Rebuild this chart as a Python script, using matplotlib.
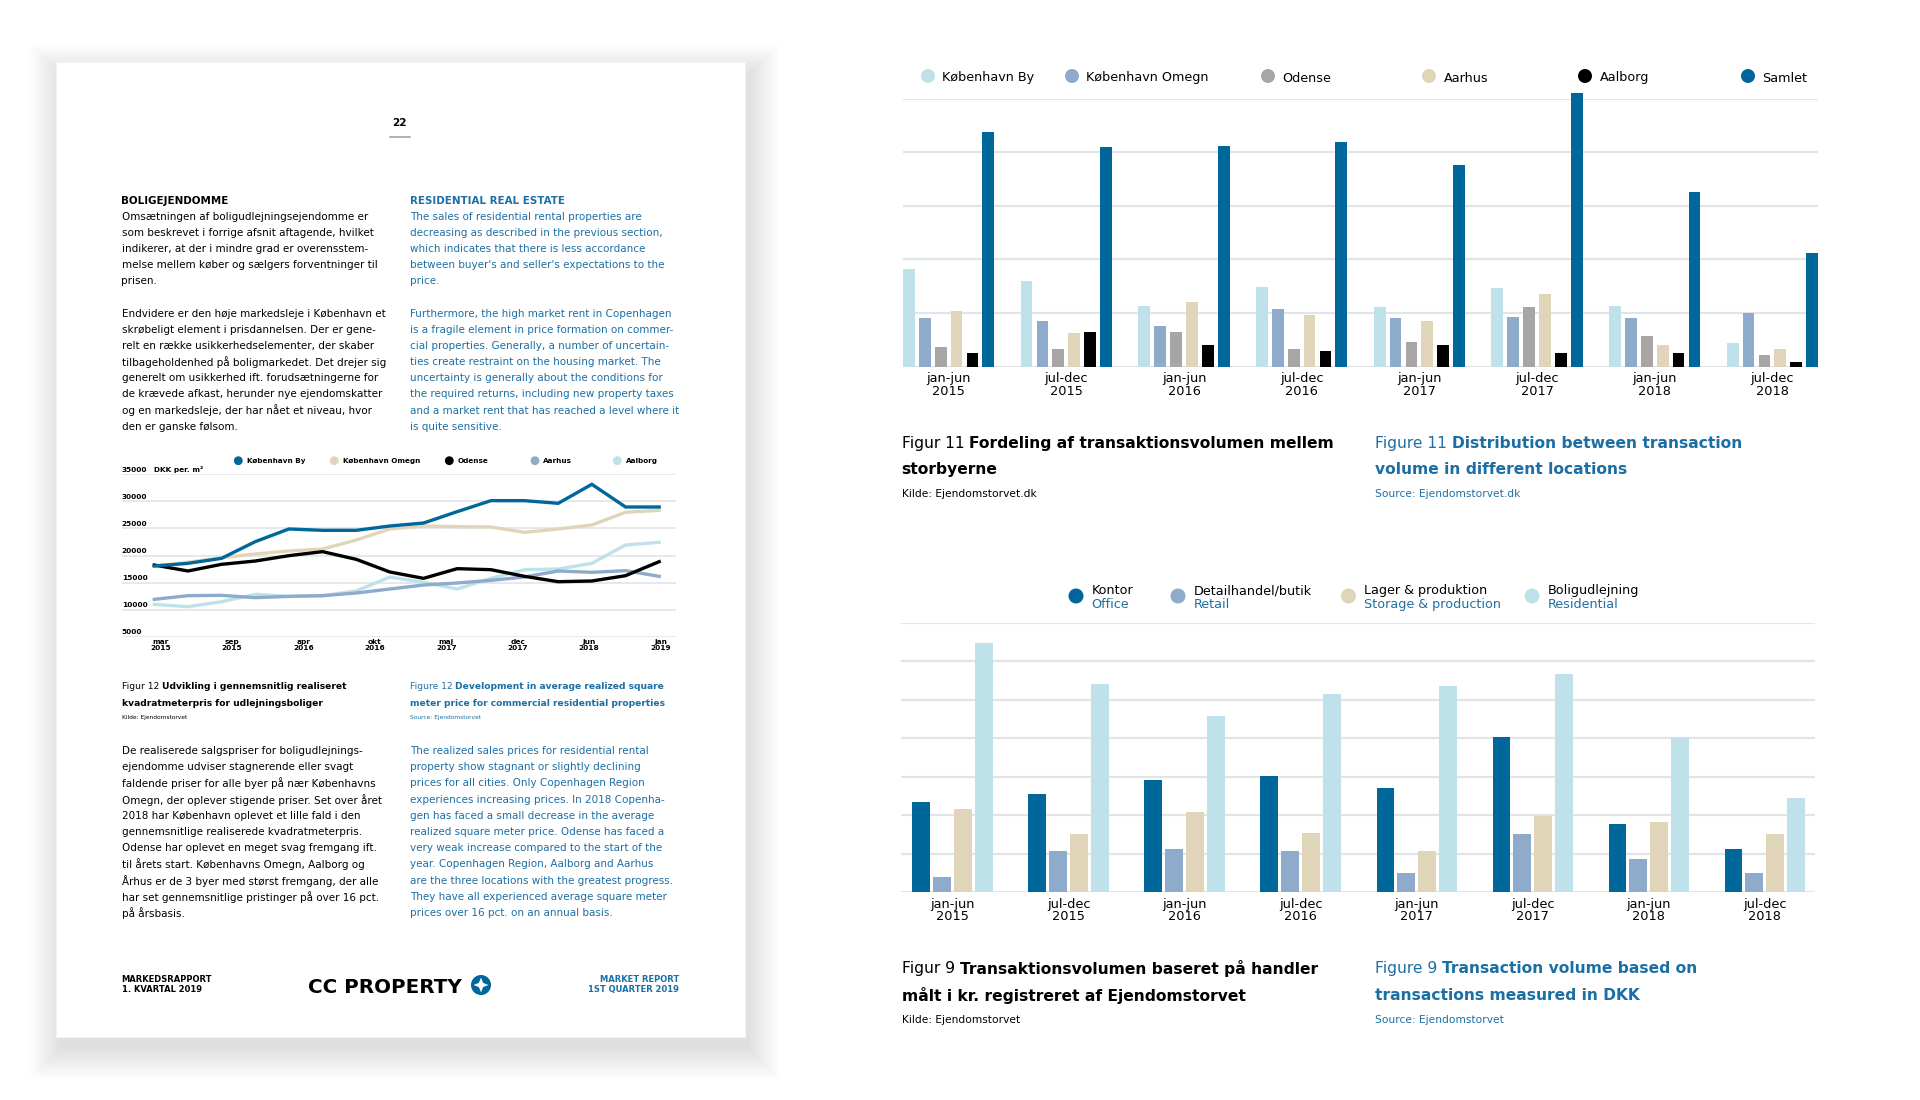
import matplotlib
matplotlib.use("Agg")
import matplotlib.pyplot as plt
import numpy as np
from matplotlib.patches import Rectangle, Circle, Polygon

plt.rcParams["font.family"] = ["DejaVu Sans"]

W, H = 1920, 1100
DARK = "#00679a"
TXT_BLUE = "#1c6fa4"
GRID = "#e1e4e8"
C_BY = "#bfe2ea"
C_OMEGN = "#8eabcb"
C_ODENSE = "#a8a5a5"
C_AARHUS = "#e1d5b9"
C_AALBORG = "#000000"

# ---- line chart: realised price per m2, quarterly Q1 2015 .. Q4 2018
price_ticks = ["mar\n2015", "sep\n2015", "apr\n2016", "okt\n2016",
               "maj\n2017", "dec\n2017", "jun\n2018", "jan\n2019"]
kbh_by_pris = [18060, 18550, 19480, 22560, 24900, 24650, 24650, 25450,
               26000, 28100, 30130, 30130, 29640, 33150, 28960, 28960]
kbh_omegn_pris = [18060, 18740, 19600, 20280, 20830, 21200, 22860, 24900,
                  25450, 25330, 25270, 24280, 24900, 25640, 27980, 28350]
odense_pris = [18240, 17140, 18370, 18980, 19970, 20710, 19290, 16950,
               15780, 17570, 17380, 16150, 15160, 15290, 16270, 18860]
aarhus_pris = [11900, 12580, 12640, 12210, 12450, 12580, 13070, 13810,
               14550, 14920, 15410, 16030, 17140, 16890, 17200, 16150]
aalborg_pris = [10980, 10540, 11470, 12820, 12450, 12580, 13440, 16030,
                15040, 13810, 15780, 17380, 17500, 18550, 21940, 22430]

# ---- bar charts: half-year periods
periods = ["jan-jun\n2015", "jul-dec\n2015", "jan-jun\n2016", "jul-dec\n2016",
           "jan-jun\n2017", "jul-dec\n2017", "jan-jun\n2018", "jul-dec\n2018"]

# figure 11 (relative volume per city, no axis labels in original)
vol_kbh_by = [1.82, 1.60, 1.14, 1.49, 1.11, 1.46, 1.14, 0.44]
vol_kbh_omegn = [0.90, 0.86, 0.76, 1.07, 0.90, 0.93, 0.90, 1.00]
vol_odense = [0.37, 0.33, 0.65, 0.33, 0.47, 1.11, 0.58, 0.22]
vol_aarhus = [1.04, 0.62, 1.21, 0.96, 0.86, 1.36, 0.40, 0.33]
vol_aalborg = [0.25, 0.65, 0.40, 0.29, 0.40, 0.25, 0.25, 0.08]
vol_samlet = [4.37, 4.09, 4.12, 4.19, 3.76, 5.11, 3.26, 2.13]

# figure 9 (volume per property type)
vol_kontor = [2.34, 2.55, 2.92, 3.02, 2.71, 4.02, 1.76, 1.13]
vol_detail = [0.38, 1.07, 1.13, 1.07, 0.49, 1.50, 0.87, 0.49]
vol_lager = [2.17, 1.50, 2.07, 1.54, 1.07, 1.98, 1.81, 1.50]
vol_bolig = [6.46, 5.40, 4.57, 5.14, 5.35, 5.67, 4.02, 2.44]

fig = plt.figure(figsize=(19.2, 11), dpi=100)
bg = fig.add_axes([0, 0, 1, 1])
bg.set_xlim(0, W)
bg.set_ylim(H, 0)
bg.axis("off")


def px_axes(x0, y0, x1, y1):
    ax = fig.add_axes([x0 / W, 1 - y1 / H, (x1 - x0) / W, (y1 - y0) / H])
    ax.set_facecolor("none")
    for s in ax.spines.values():
        s.set_visible(False)
    return ax


def txt(x, y, s, size, color="black", weight="normal", ha="left", **kw):
    return bg.text(x, y, s, fontsize=size, color=color, fontweight=weight,
                   ha=ha, va="center_baseline", **kw)


def mixed(x, y, first, second, size, color):
    t = txt(x, y, first, size, color)
    bg.annotate(second, xy=(1, y), xycoords=(t, "data"), xytext=(size * 0.32, 0),
                textcoords="offset points", fontsize=size, color=color,
                fontweight="bold", va="center_baseline", ha="left")


# ---- page with shadow
PX0, PY0, PX1, PY1 = 56, 62, 745, 1037
for i in range(16):
    gap = i * 2.0
    bg.add_patch(Rectangle((PX0 - gap + 4, PY0 - gap + 12), (PX1 - PX0) + 2 * gap,
                           (PY1 - PY0) + 2 * gap, fc="black", alpha=0.008, lw=0))
bg.add_patch(Rectangle((PX0, PY0), PX1 - PX0, PY1 - PY0, fc="white",
                       ec="#f2f2f2", lw=0.8))

txt(399.3, 121.7, "22", 7.5, weight="bold", ha="center")
bg.plot([390.4, 410], [136.7, 136.7], color="#9a9a9a", lw=1.1)

LX, RX = 121.5, 409.6
BODY = 7.5
LS = 16.15
left_top = ["Omsætningen af boligudlejningsejendomme er",
            "som beskrevet i forrige afsnit aftagende, hvilket",
            "indikerer, at der i mindre grad er overensstem-",
            "melse mellem køber og sælgers forventninger til",
            "prisen.",
            "",
            "Endvidere er den høje markedsleje i København et",
            "skrøbeligt element i prisdannelsen. Der er gene-",
            "relt en række usikkerhedselementer, der skaber",
            "tilbageholdenhed på boligmarkedet. Det drejer sig",
            "generelt om usikkerhed ift. forudsætningerne for",
            "de krævede afkast, herunder nye ejendomskatter",
            "og en markedsleje, der har nået et niveau, hvor",
            "den er ganske følsom."]
right_top = ["The sales of residential rental properties are",
             "decreasing as described in the previous section,",
             "which indicates that there is less accordance",
             "between buyer's and seller's expectations to the",
             "price.",
             "",
             "Furthermore, the high market rent in Copenhagen",
             "is a fragile element in price formation on commer-",
             "cial properties. Generally, a number of uncertain-",
             "ties create restraint on the housing market. The",
             "uncertainty is generally about the conditions for",
             "the required returns, including new property taxes",
             "and a market rent that has reached a level where it",
             "is quite sensitive."]
txt(LX, 199.6, "BOLIGEJENDOMME", 7.4, weight="bold")
txt(RX, 199.6, "RESIDENTIAL REAL ESTATE", 7.4, color=TXT_BLUE, weight="bold")
for k, (a, b) in enumerate(zip(left_top, right_top)):
    y = 215.7 + k * LS
    txt(LX, y, a, BODY)
    txt(RX, y, b, BODY, color=TXT_BLUE)

left_bot = ["De realiserede salgspriser for boligudlejnings-",
            "ejendomme udviser stagnerende eller svagt",
            "faldende priser for alle byer på nær Københavns",
            "Omegn, der oplever stigende priser. Set over året",
            "2018 har København oplevet et lille fald i den",
            "gennemsnitlige realiserede kvadratmeterpris.",
            "Odense har oplevet en meget svag fremgang ift.",
            "til årets start. Københavns Omegn, Aalborg og",
            "Århus er de 3 byer med størst fremgang, der alle",
            "har set gennemsnitlige pristinger på over 16 pct.",
            "på årsbasis."]
right_bot = ["The realized sales prices for residential rental",
             "property show stagnant or slightly declining",
             "prices for all cities. Only Copenhagen Region",
             "experiences increasing prices. In 2018 Copenha-",
             "gen has faced a small decrease in the average",
             "realized square meter price. Odense has faced a",
             "very weak increase compared to the start of the",
             "year. Copenhagen Region, Aalborg and Aarhus",
             "are the three locations with the greatest progress.",
             "They have all experienced average square meter",
             "prices over 16 pct. on an annual basis."]
for k, (a, b) in enumerate(zip(left_bot, right_bot)):
    y = 750 + k * 16.2
    txt(LX, y, a, BODY)
    txt(RX, y, b, BODY, color=TXT_BLUE)

# figure 12 captions
CAP12 = 6.6
mixed(LX, 685.7, "Figur 12", "Udvikling i gennemsnitlig realiseret", CAP12, "black")
txt(LX, 702, "kvadratmeterpris for udlejningsboliger", CAP12, weight="bold")
txt(LX, 716.7, "Kilde: Ejendomstorvet", 4.2)
mixed(RX, 685.7, "Figure 12", "Development in average realized square", CAP12, TXT_BLUE)
txt(RX, 702, "meter price for commercial residential properties", CAP12,
    color=TXT_BLUE, weight="bold")
txt(RX, 716.7, "Source: Ejendomstorvet", 4.2, color=TXT_BLUE)

# footer
FT = 6.0
txt(LX, 978.7, "MARKEDSRAPPORT", FT, weight="bold")
txt(LX, 988.3, "1. KVARTAL 2019", FT, weight="bold")
txt(678.8, 978.7, "MARKET REPORT", FT, color=TXT_BLUE, weight="bold", ha="right")
txt(678.8, 988.3, "1ST QUARTER 2019", FT, color=TXT_BLUE, weight="bold", ha="right")
txt(307.5, 985.5, "CC PROPERTY", 14.3, weight="bold")
bg.add_patch(Circle((481, 985), 10, fc=DARK, lw=0))
ang = np.arange(8) * np.pi / 4 - np.pi / 2
rad = np.where(np.arange(8) % 2 == 0, 7.4, 3.0)
bg.add_patch(Polygon(np.c_[481 + rad * np.cos(ang), 985 + rad * np.sin(ang)],
                     closed=True, fc="white", lw=0))

# ---- line chart (figure 12)
ax = px_axes(121.7, 474.3, 676, 636.7)
q = np.arange(len(kbh_by_pris))
ax.set_xlim(-0.968, 15.5)
ax.set_ylim(5000, 35000)
yt = np.arange(5000, 35001, 5000)
ax.set_yticks(yt)
ax.yaxis.grid(True, color=GRID, lw=1.2)
ax.set_axisbelow(True)
ax.tick_params(axis="y", length=0, labelleft=False)
SMALL = 5.3
for v in yt:
    ax.annotate(str(v), xy=(-0.968, v), xytext=(0, 1.6), textcoords="offset points",
                fontsize=SMALL, fontweight="bold", va="baseline", ha="left")
ax.annotate("DKK per. m²", xy=(0, 35000), xytext=(0, 1.6), textcoords="offset points",
            fontsize=SMALL, fontweight="bold", va="baseline", ha="left")
ax.set_xticks(np.linspace(0.19, 15.04, len(price_ticks)))
ax.set_xticklabels(price_ticks, fontsize=SMALL, fontweight="bold", linespacing=0.9)
ax.tick_params(axis="x", length=0, pad=2)
series = [(aalborg_pris, C_BY), (aarhus_pris, C_OMEGN), (kbh_omegn_pris, C_AARHUS),
          (odense_pris, C_AALBORG), (kbh_by_pris, DARK)]
for vals, col in series:
    ax.plot(q, vals, color=col, lw=2.4, solid_joinstyle="miter", clip_on=False)

leg12 = [("København By", DARK, 238.3), ("København Omegn", C_AARHUS, 334.3),
         ("Odense", C_AALBORG, 449.3), ("Aarhus", C_OMEGN, 535),
         ("Aalborg", C_BY, 617.3)]
for lab, col, x in leg12:
    bg.add_patch(Circle((x, 460.7), 4.4, fc=col, lw=0))
    txt(x + 8.4, 460.9, lab, 5.2, weight="bold")

# ---- figure 11 bar chart
ax1 = px_axes(903, 98.7, 1818, 366.7)
g = np.arange(len(periods))
ax1.set_xlim(-0.3875, 7.3875)
ax1.set_ylim(0, 5)
ax1.set_yticks(range(6))
ax1.yaxis.grid(True, color=GRID, lw=1.6)
ax1.set_axisbelow(True)
ax1.tick_params(axis="y", length=0, labelleft=False)
bars11 = [vol_kbh_by, vol_kbh_omegn, vol_odense, vol_aarhus, vol_aalborg, vol_samlet]
cols11 = [C_BY, C_OMEGN, C_ODENSE, C_AARHUS, C_AALBORG, DARK]
for i, (vals, col) in enumerate(zip(bars11, cols11)):
    ax1.bar(g + (i - 2.5) * 0.135, vals, width=0.1, color=col, clip_on=False, zorder=3)
ax1.set_xticks(g)
ax1.set_xticklabels(periods, fontsize=9.3, linespacing=0.95)
ax1.tick_params(axis="x", length=0, pad=4)

LEG = 9.2
leg11 = [("København By", C_BY, 928), ("København Omegn", C_OMEGN, 1072),
         ("Odense", C_ODENSE, 1268), ("Aarhus", C_AARHUS, 1429),
         ("Aalborg", C_AALBORG, 1585), ("Samlet", DARK, 1748)]
for lab, col, x in leg11:
    bg.add_patch(Circle((x, 76), 7, fc=col, lw=0))
    txt(x + 14.5, 76.5, lab, LEG)

# captions figure 11
CX1, CX2 = 901.5, 1374.7
CAP = 11.2
SRC = 7.7
mixed(CX1, 442.3, "Figur 11", "Fordeling af transaktionsvolumen mellem", CAP, "black")
txt(CX1, 468.3, "storbyerne", CAP, weight="bold")
txt(CX1, 493.3, "Kilde: Ejendomstorvet.dk", SRC)
mixed(CX2, 442.3, "Figure 11", "Distribution between transaction", CAP, TXT_BLUE)
txt(CX2, 468.3, "volume in different locations", CAP, color=TXT_BLUE, weight="bold")
txt(CX2, 493.3, "Source: Ejendomstorvet.dk", SRC, color=TXT_BLUE)

# ---- figure 9 bar chart
ax2 = px_axes(901, 622.7, 1815, 892)
ax2.set_xlim(-0.444, 7.435)
ax2.set_ylim(0, 7)
ax2.set_yticks(range(8))
ax2.yaxis.grid(True, color=GRID, lw=1.6)
ax2.set_axisbelow(True)
ax2.tick_params(axis="y", length=0, labelleft=False)
bars9 = [vol_kontor, vol_detail, vol_lager, vol_bolig]
cols9 = [DARK, C_OMEGN, C_AARHUS, C_BY]
for i, (vals, col) in enumerate(zip(bars9, cols9)):
    ax2.bar(g + (i - 1.5) * 0.18, vals, width=0.15, color=col, zorder=3)
ax2.set_xticks(g)
ax2.set_xticklabels(periods, fontsize=9.3, linespacing=0.95)
ax2.tick_params(axis="x", length=0, pad=4)

leg9 = [("Kontor", "Office", DARK, 1076), ("Detailhandel/butik", "Retail", C_OMEGN, 1178),
        ("Lager & produktion", "Storage & production", C_AARHUS, 1348.5),
        ("Boligudlejning", "Residential", C_BY, 1532)]
for da, en, col, x in leg9:
    bg.add_patch(Circle((x, 596), 7.5, fc=col, lw=0))
    txt(x + 15.5, 589, da, LEG)
    txt(x + 15.5, 603, en, LEG, color=TXT_BLUE)

mixed(CX1, 967.3, "Figur 9", "Transaktionsvolumen baseret på handler", CAP, "black")
txt(CX1, 994.3, "målt i kr. registreret af Ejendomstorvet", CAP, weight="bold")
txt(CX1, 1019, "Kilde: Ejendomstorvet", SRC)
mixed(CX2, 967.3, "Figure 9", "Transaction volume based on", CAP, TXT_BLUE)
txt(CX2, 994.3, "transactions measured in DKK", CAP, color=TXT_BLUE, weight="bold")
txt(CX2, 1019, "Source: Ejendomstorvet", SRC, color=TXT_BLUE)

fig.savefig("out.png", dpi=100, facecolor="white")
